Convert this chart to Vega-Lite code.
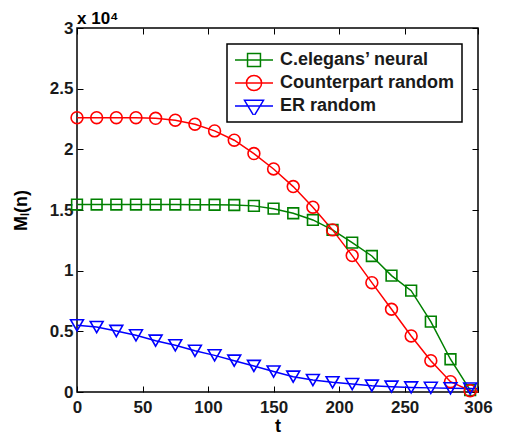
{
  "$schema": "https://vega.github.io/schema/vega-lite/v6.json",
  "autosize": "none",
  "width": 401,
  "height": 364,
  "padding": {"left": 77, "top": 28, "right": 27, "bottom": 45},
  "background": "white",
  "title": {"text": "x 10⁴", "anchor": "start", "frame": "group", "fontSize": 17, "fontWeight": "bold", "font": "Liberation Sans", "color": "black", "offset": -9},
  "data": {"values": [
    {"t": 0, "series": "C.elegans’ neural", "v": 15450},
    {"t": 15, "series": "C.elegans’ neural", "v": 15450},
    {"t": 30, "series": "C.elegans’ neural", "v": 15450},
    {"t": 45, "series": "C.elegans’ neural", "v": 15450},
    {"t": 60, "series": "C.elegans’ neural", "v": 15450},
    {"t": 75, "series": "C.elegans’ neural", "v": 15450},
    {"t": 90, "series": "C.elegans’ neural", "v": 15440},
    {"t": 105, "series": "C.elegans’ neural", "v": 15430},
    {"t": 120, "series": "C.elegans’ neural", "v": 15410},
    {"t": 135, "series": "C.elegans’ neural", "v": 15340},
    {"t": 150, "series": "C.elegans’ neural", "v": 15110},
    {"t": 165, "series": "C.elegans’ neural", "v": 14730},
    {"t": 180, "series": "C.elegans’ neural", "v": 14180},
    {"t": 195, "series": "C.elegans’ neural", "v": 13360},
    {"t": 210, "series": "C.elegans’ neural", "v": 12310},
    {"t": 225, "series": "C.elegans’ neural", "v": 11210},
    {"t": 240, "series": "C.elegans’ neural", "v": 9590},
    {"t": 255, "series": "C.elegans’ neural", "v": 8350},
    {"t": 270, "series": "C.elegans’ neural", "v": 5800},
    {"t": 285, "series": "C.elegans’ neural", "v": 2700},
    {"t": 300, "series": "C.elegans’ neural", "v": 150},
    {"t": 306, "series": "C.elegans’ neural", "v": 0},
    {"t": 0, "series": "Counterpart random", "v": 22610},
    {"t": 15, "series": "Counterpart random", "v": 22610},
    {"t": 30, "series": "Counterpart random", "v": 22610},
    {"t": 45, "series": "Counterpart random", "v": 22610},
    {"t": 60, "series": "Counterpart random", "v": 22560},
    {"t": 75, "series": "Counterpart random", "v": 22400},
    {"t": 90, "series": "Counterpart random", "v": 22070},
    {"t": 105, "series": "Counterpart random", "v": 21520},
    {"t": 120, "series": "Counterpart random", "v": 20750},
    {"t": 135, "series": "Counterpart random", "v": 19650},
    {"t": 150, "series": "Counterpart random", "v": 18380},
    {"t": 165, "series": "Counterpart random", "v": 16930},
    {"t": 180, "series": "Counterpart random", "v": 15230},
    {"t": 195, "series": "Counterpart random", "v": 13360},
    {"t": 210, "series": "Counterpart random", "v": 11240},
    {"t": 225, "series": "Counterpart random", "v": 9010},
    {"t": 240, "series": "Counterpart random", "v": 6820},
    {"t": 255, "series": "Counterpart random", "v": 4620},
    {"t": 270, "series": "Counterpart random", "v": 2580},
    {"t": 285, "series": "Counterpart random", "v": 850},
    {"t": 300, "series": "Counterpart random", "v": 110},
    {"t": 306, "series": "Counterpart random", "v": 0},
    {"t": 0, "series": "ER random", "v": 5500},
    {"t": 15, "series": "ER random", "v": 5350},
    {"t": 30, "series": "ER random", "v": 5030},
    {"t": 45, "series": "ER random", "v": 4670},
    {"t": 60, "series": "ER random", "v": 4230},
    {"t": 75, "series": "ER random", "v": 3850},
    {"t": 90, "series": "ER random", "v": 3400},
    {"t": 105, "series": "ER random", "v": 3020},
    {"t": 120, "series": "ER random", "v": 2580},
    {"t": 135, "series": "ER random", "v": 2150},
    {"t": 150, "series": "ER random", "v": 1690},
    {"t": 165, "series": "ER random", "v": 1260},
    {"t": 180, "series": "ER random", "v": 990},
    {"t": 195, "series": "ER random", "v": 800},
    {"t": 210, "series": "ER random", "v": 650},
    {"t": 225, "series": "ER random", "v": 520},
    {"t": 240, "series": "ER random", "v": 440},
    {"t": 255, "series": "ER random", "v": 380},
    {"t": 270, "series": "ER random", "v": 340},
    {"t": 285, "series": "ER random", "v": 310},
    {"t": 300, "series": "ER random", "v": 280},
    {"t": 306, "series": "ER random", "v": 270}
  ]},
  "layer": [
    {
      "mark": {"type": "line", "strokeWidth": 1.5},
      "encoding": {
        "x": {"field": "t", "type": "quantitative", "scale": {"domain": [0, 306], "nice": false, "zero": false},
              "axis": {"orient": "bottom", "values": [0, 50, 100, 150, 200, 250, 306], "title": "t", "titlePadding": 2, "labelPadding": 13}},
        "y": {"field": "v", "type": "quantitative", "scale": {"domain": [0, 30000], "nice": false},
              "axis": {"orient": "left", "values": [0, 5000, 10000, 15000, 20000, 25000, 30000], "labelExpr": "datum.value / 10000", "title": "Mₗ(n)", "titlePadding": 19, "labelPadding": 10}},
        "color": {"field": "series", "type": "nominal", "scale": {"domain": ["C.elegans’ neural", "Counterpart random", "ER random"], "range": ["#008000", "#ff0000", "#0000ff"]}, "legend": null}
      }
    },
    {
      "transform": [{"filter": "datum.t <= 300"}],
      "mark": {"type": "point", "filled": false, "strokeWidth": 1.6, "opacity": 1},
      "encoding": {
        "x": {"field": "t", "type": "quantitative", "axis": null},
        "y": {"field": "v", "type": "quantitative", "axis": null},
        "color": {"field": "series", "type": "nominal", "scale": {"domain": ["C.elegans’ neural", "Counterpart random", "ER random"], "range": ["#008000", "#ff0000", "#0000ff"]}, "legend": null},
        "shape": {"field": "series", "type": "nominal", "scale": {"domain": ["C.elegans’ neural", "Counterpart random", "ER random"], "range": ["square", "circle", "triangle-down"]}, "legend": null},
        "size": {"field": "series", "type": "ordinal", "scale": {"domain": ["C.elegans’ neural", "Counterpart random", "ER random"], "range": [115, 165, 250]}, "legend": null}
      }
    },
    {
      "mark": {"type": "point", "filled": false, "opacity": 0, "strokeWidth": 1.5},
      "encoding": {
        "x": {"field": "t", "type": "quantitative", "axis": {"orient": "top", "values": [0, 50, 100, 150, 200, 250, 306], "labels": false, "title": null}},
        "y": {"field": "v", "type": "quantitative", "axis": {"orient": "right", "values": [0, 5000, 10000, 15000, 20000, 25000, 30000], "labels": false, "title": null}},
        "color": {"field": "series", "type": "nominal", "scale": {"domain": ["C.elegans’ neural", "Counterpart random", "ER random"], "range": ["#008000", "#ff0000", "#0000ff"]},
                  "legend": {"title": null}},
        "shape": {"field": "series", "type": "nominal", "scale": {"domain": ["C.elegans’ neural", "Counterpart random", "ER random"], "range": [
          "M-1,0H1M-0.34,-0.34H0.34V0.34H-0.34Z",
          "M-1,0H1M0.4,0A0.4,0.4,0,1,1,-0.4,0A0.4,0.4,0,1,1,0.4,0Z",
          "M-1,0H1M-0.5,-0.3H0.5L0,0.53Z"
        ]}, "legend": {"title": null}}
      }
    }
  ],
  "resolve": {
    "scale": {"color": "independent", "shape": "independent", "size": "independent"},
    "axis": {"x": "independent", "y": "independent"}
  },
  "config": {
    "font": "Liberation Sans",
    "view": {"stroke": "black", "strokeWidth": 1.5},
    "axis": {"domain": false, "grid": false, "labelFlush": false, "labelFont": "Liberation Sans", "labelFontWeight": "bold", "labelFontSize": 17, "labelColor": "#1a1a1a",
             "tickColor": "black", "tickSize": -6, "tickWidth": 1, "titleFont": "Liberation Sans", "titleFontWeight": "bold", "titleFontSize": 18, "titleColor": "black"},
    "legend": {"orient": "top-right", "offset": 16, "strokeColor": "black", "strokeWidth": 1.5, "fillColor": "white", "padding": 7, "cornerRadius": 0,
               "labelFont": "Liberation Sans", "labelFontWeight": "bold", "labelFontSize": 18, "labelColor": "#1a1a1a", "labelOffset": 6, "labelLimit": 300,
               "symbolSize": 1444, "symbolStrokeWidth": 1.5, "symbolOpacity": 1, "clipHeight": 18, "rowPadding": 5}
  }
}
